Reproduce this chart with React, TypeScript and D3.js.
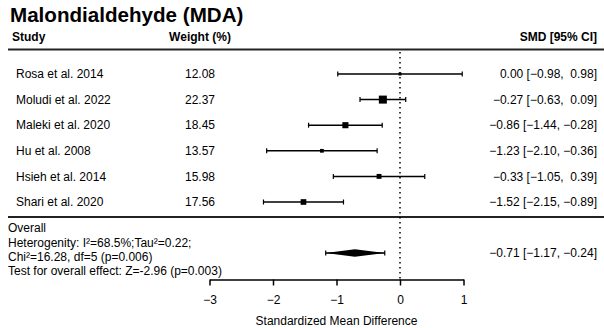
import React, { useEffect, useRef } from "react";
import * as d3 from "d3";

const studies = ["Rosa et al. 2014", "Moludi et al. 2022", "Maleki et al. 2020", "Hu et al. 2008", "Hsieh et al. 2014", "Shari et al. 2020"];
const weights = [12.08, 22.37, 18.45, 13.57, 15.98, 17.56];
const smd = [0.0, -0.27, -0.86, -1.23, -0.33, -1.52];
const lower = [-0.98, -0.63, -1.44, -2.1, -1.05, -2.15];
const upper = [0.98, 0.09, -0.28, -0.36, 0.39, -0.89];
const overall = { est: -0.71, lo: -1.17, hi: -0.24 };
const overallLines = [
  "Overall",
  "Heterogenity: I²=68.5%;Tau²=0.22;",
  "Chi²=16.28, df=5 (p=0.006)",
  "Test for overall effect: Z=-2.96 (p=0.003)",
];
const xTicks = [-3, -2, -1, 0, 1];

const W = 604;
const H = 328;
const FONT = "'Liberation Sans', Arial, sans-serif";

const fmt = (v: number) => {
  const s = Math.abs(v).toFixed(2);
  return v < 0 ? "\u2212" + s : s;
};
const fmtCI = (e: number, l: number, h: number) =>
  `${fmt(e)} [${fmt(l)}, ${h >= 0 ? " " : ""}${fmt(h)}]`;

export default function App() {
  const axisRef = useRef<SVGGElement>(null);
  const x = d3.scaleLinear().domain([-3, 1]).range([209.5, 463.5]);
  const y = d3.scaleLinear().domain([0, studies.length - 1]).range([74, 202]);
  const size = d3.scaleLinear().domain([d3.min(weights)!, d3.max(weights)!]).range([3, 8]);
  const axisY = 279.5;

  useEffect(() => {
    if (!axisRef.current) return;
    const g = d3.select(axisRef.current);
    g.selectAll("*").remove();
    g.call(
      d3.axisBottom(x).tickValues(xTicks).tickSize(6).tickSizeOuter(0).tickPadding(10).tickFormat(d3.format("d") as any)
    );
    g.select(".domain").attr("stroke", "#000").attr("stroke-width", 1.5);
    g.selectAll(".tick line").attr("stroke", "#000").attr("stroke-width", 1.5);
    g.selectAll(".tick text").attr("font-size", 12).attr("font-family", FONT).attr("fill", "#000");
  }, []);

  const diamond = [
    [x(overall.lo), 253],
    [x(overall.est), 253 - 3.8],
    [x(overall.hi), 253],
    [x(overall.est), 253 + 3.8],
  ]
    .map((p) => p.join(","))
    .join(" ");

  return (
    <svg
      width={W}
      height={H}
      style={{ position: "absolute", left: 0, top: 0, background: "#fff" }}
      fontFamily={FONT}
    >
      <rect width={W} height={H} fill="#fff" />
      <text x={10} y={15} dy="0.35em" fontSize={20.6} fontWeight="bold">
        Malondialdehyde (MDA)
      </text>
      <text x={12} y={37} dy="0.35em" fontSize={12} fontWeight="bold">Study</text>
      <text x={200} y={37} dy="0.35em" fontSize={12} fontWeight="bold" textAnchor="middle">Weight (%)</text>
      <text x={597} y={37} dy="0.35em" fontSize={12} fontWeight="bold" textAnchor="end">SMD [95% CI]</text>
      <line x1={8} x2={W} y1={49.5} y2={49.5} stroke="#222" strokeWidth={2} />
      <line x1={8} x2={W} y1={217} y2={217} stroke="#222" strokeWidth={2} />

      <line
        x1={x(0)}
        x2={x(0)}
        y1={52}
        y2={axisY}
        stroke="#000"
        strokeWidth={1.5}
        strokeDasharray="1.5,3.5"
      />

      {studies.map((s, i) => {
        const yy = y(i);
        const sz = size(weights[i]);
        return (
          <g key={s}>
            <text x={16} y={yy} dy="0.35em" fontSize={12}>{s}</text>
            <text x={200} y={yy} dy="0.35em" fontSize={12} textAnchor="middle">{weights[i].toFixed(2)}</text>
            <text x={597} y={yy} dy="0.35em" fontSize={12} textAnchor="end" style={{ whiteSpace: "pre" }}>
              {fmtCI(smd[i], lower[i], upper[i])}
            </text>
            <line x1={x(lower[i])} x2={x(upper[i])} y1={yy} y2={yy} stroke="#000" strokeWidth={1.5} />
            <line x1={x(lower[i])} x2={x(lower[i])} y1={yy - 2.5} y2={yy + 2.5} stroke="#000" strokeWidth={1.2} />
            <line x1={x(upper[i])} x2={x(upper[i])} y1={yy - 2.5} y2={yy + 2.5} stroke="#000" strokeWidth={1.2} />
            <rect x={x(smd[i]) - sz / 2} y={yy - sz / 2} width={sz} height={sz} fill="#000" />
          </g>
        );
      })}

      {overallLines.map((t, i) => (
        <text key={i} x={8} y={228 + i * 14.3} dy="0.35em" fontSize={12}>{t}</text>
      ))}
      <line x1={x(overall.lo)} x2={x(overall.hi)} y1={253} y2={253} stroke="#000" strokeWidth={1.5} />
      <line x1={x(overall.lo)} x2={x(overall.lo)} y1={250.5} y2={255.5} stroke="#000" strokeWidth={1.2} />
      <line x1={x(overall.hi)} x2={x(overall.hi)} y1={250.5} y2={255.5} stroke="#000" strokeWidth={1.2} />
      <polygon points={diamond} fill="#000" />
      <text x={597} y={253} dy="0.35em" fontSize={12} textAnchor="end" style={{ whiteSpace: "pre" }}>
        {fmtCI(overall.est, overall.lo, overall.hi)}
      </text>

      <g ref={axisRef} transform={`translate(0,${axisY})`} />
      <text x={x(-1)} y={321} dy="0.35em" fontSize={12} textAnchor="middle">
        Standardized Mean Difference
      </text>
    </svg>
  );
}
